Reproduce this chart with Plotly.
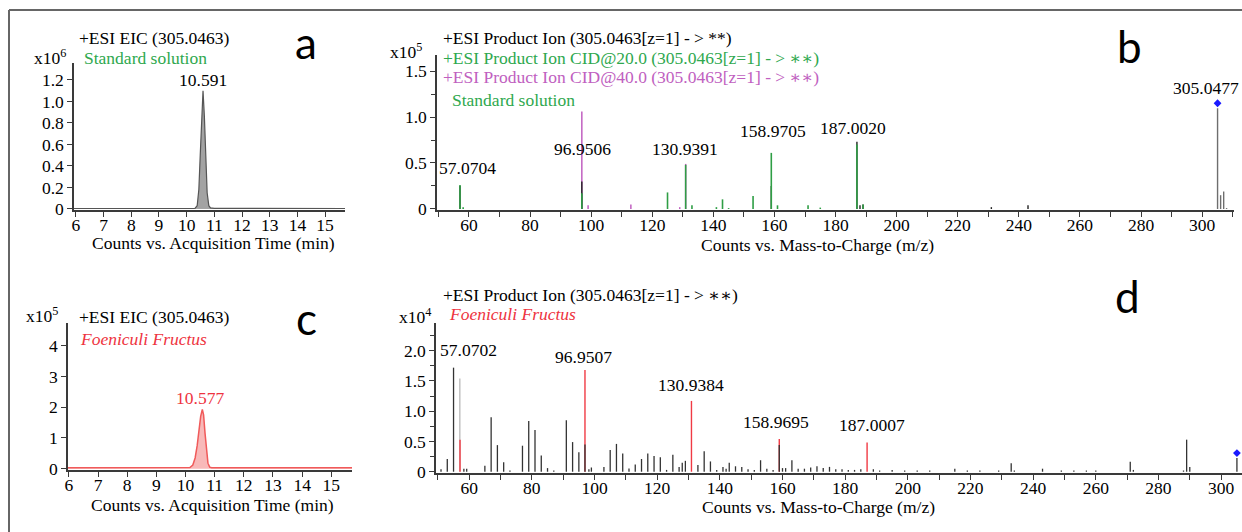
import plotly.graph_objects as go

W, H = 1242, 532

# ---------------- data ----------------
# Panel a: EIC, standard solution (x10^6 counts)
time_a = [5.93, 7.0, 8.0, 9.0, 10.0, 10.30, 10.38, 10.44, 10.49, 10.54, 10.591,
          10.64, 10.69, 10.74, 10.80, 10.86, 11.0, 12.0, 13.0, 14.0, 15.72]
counts_a = [0.004, 0.004, 0.004, 0.004, 0.004, 0.006, 0.03, 0.18, 0.50, 0.88, 1.10,
            0.86, 0.46, 0.15, 0.03, 0.01, 0.006, 0.006, 0.004, 0.004, 0.004]

# Panel c: EIC, Foeniculi Fructus (x10^5 counts)
time_c = [5.97, 7.0, 8.0, 9.0, 10.0, 10.15, 10.25, 10.33, 10.40, 10.46, 10.52, 10.577,
          10.62, 10.67, 10.72, 10.77, 10.83, 10.90, 11.5, 12.0, 13.0, 14.0, 15.71]
counts_c = [0.03, 0.03, 0.02, 0.02, 0.03, 0.04, 0.12, 0.35, 0.75, 1.25, 1.70, 1.93,
            1.75, 1.15, 0.55, 0.18, 0.05, 0.03, 0.03, 0.03, 0.03, 0.03, 0.03]

# Panel b: product ion spectra, standard (x10^5 counts)
b_mag_mz = [96.95, 99.0, 113.0, 129.0, 130.94]
b_mag_int = [1.06, 0.04, 0.05, 0.02, 0.49]
b_black_mz = [57.07, 96.95, 158.97, 187.00, 188.0, 189.0, 231.0, 243.0]
b_black_int = [0.25, 0.30, 0.25, 0.73, 0.04, 0.05, 0.02, 0.04]
b_green_mz = [57.07, 58.1, 96.95, 125.0, 130.94, 133.0, 141.0, 143.0, 145.0, 153.0,
              158.97, 161.0, 171.0, 175.0, 187.0, 189.0]
b_green_int = [0.26, 0.02, 0.17, 0.18, 0.48, 0.04, 0.02, 0.105, 0.01, 0.14,
               0.61, 0.04, 0.04, 0.015, 0.70, 0.05]
b_prec_mz = [305.05, 306.05, 307.05, 308.0]
b_prec_int = [1.095, 0.15, 0.19, 0.01]

# Panel d: product ion spectrum, Foeniculi Fructus (x10^4 counts)
d_light_mz = [57.0]
d_light_int = [1.54]
d_red_mz = [57.07, 96.95, 130.94, 158.97, 187.0]
d_red_int = [0.53, 1.68, 1.17, 0.54, 0.485]
d_black_mz = [51.0, 53.0, 55.0, 58.3, 59.2, 65.0, 67.0, 69.0, 71.0, 73.0, 77.0, 79.0,
              81.0, 83.0, 85.0, 87.0, 91.0, 93.0, 95.0, 96.95, 98.2, 99.0, 103.0, 105.0,
              107.0, 109.0, 111.0, 113.0, 115.0, 117.0, 119.0, 121.0, 123.0, 125.0,
              127.0, 128.0, 129.0, 133.0, 135.0, 137.0, 139.0, 141.0, 142.0, 143.0,
              145.0, 147.0, 149.0, 151.0, 153.0, 155.0, 157.0, 158.97, 160.0, 161.0,
              163.0, 165.0, 167.0, 169.0, 171.0, 173.0, 175.0, 177.0, 179.0, 181.0,
              183.0, 185.0, 189.0, 191.0, 195.0, 199.0, 203.0, 207.0, 215.0, 219.0,
              223.0, 229.0, 233.0, 234.0, 243.0, 249.0, 253.0, 257.0, 260.0, 271.0,
              272.0, 288.0, 289.0, 290.0, 305.05]
d_black_int = [0.04, 0.21, 1.72, 0.05, 0.05, 0.10, 0.90, 0.44, 0.155, 0.02, 0.43, 0.84,
               0.69, 0.27, 0.06, 0.02, 0.85, 0.49, 0.32, 0.45, 0.04, 0.07, 0.08, 0.36,
               0.46, 0.30, 0.055, 0.12, 0.21, 0.30, 0.26, 0.24, 0.03, 0.28,
               0.08, 0.15, 0.18, 0.11, 0.34, 0.17, 0.03, 0.08, 0.05, 0.15,
               0.09, 0.08, 0.04, 0.03, 0.19, 0.05, 0.03, 0.44, 0.06, 0.06,
               0.19, 0.05, 0.05, 0.07, 0.09, 0.06, 0.08, 0.04, 0.04, 0.03,
               0.03, 0.04, 0.04, 0.02, 0.03, 0.02, 0.02, 0.02, 0.05, 0.02,
               0.02, 0.02, 0.14, 0.02, 0.05, 0.02, 0.02, 0.02, 0.02, 0.165,
               0.03, 0.02, 0.53, 0.08, 0.225]

prec_mz = 305.05

# Peak labels
a_peak_label = "10.591"
c_peak_label = "10.577"
b_labels = ["57.0704", "96.9506", "130.9391", "158.9705", "187.0020"]
b_prec_label = "305.0477"
d_labels = ["57.0702", "96.9507", "130.9384", "158.9695", "187.0007"]

# ---------------- styling ----------------
SERIF = "Times New Roman, Liberation Serif, DejaVu Serif, serif"
SANS = "Lato, Open Sans, sans-serif"
GREEN = "#2ea84e"
GREEN_LINE = "#2f9e45"
MAGENTA = "#c060c0"
RED = "#ee3340"
AXIS = "#3a3a3a"
FS = 17.5


def px_x(p):
    return p / W


def px_y(p):
    return 1 - p / H


def sticks(xs, ys):
    X, Y = [], []
    for x, y in zip(xs, ys):
        X += [x, x, None]
        Y += [0, y, None]
    return X, Y


fig = go.Figure()

# Panel a
fig.add_trace(go.Scatter(x=time_a, y=counts_a, mode="lines", fill="tozeroy",
                         fillcolor="#a3a3a3", line=dict(color="#555555", width=1.2),
                         xaxis="x", yaxis="y", hoverinfo="skip"))
# Panel c
fig.add_trace(go.Scatter(x=time_c, y=counts_c, mode="lines", fill="tozeroy",
                         fillcolor="rgba(240,100,100,0.45)", line=dict(color="#f05a5a", width=1.5),
                         xaxis="x3", yaxis="y3", hoverinfo="skip"))

# Panel b spectra
for mz, it, col, w in [(b_mag_mz, b_mag_int, MAGENTA, 1.5),
                       (b_black_mz, b_black_int, "#222222", 1.4),
                       (b_green_mz, b_green_int, GREEN_LINE, 1.6),
                       (b_prec_mz, b_prec_int, "#6e6e6e", 1.4)]:
    X, Y = sticks(mz, it)
    fig.add_trace(go.Scatter(x=X, y=Y, mode="lines", line=dict(color=col, width=w),
                             xaxis="x2", yaxis="y2", hoverinfo="skip"))
# precursor marker (b): placed ~5px above the peak top (92 px per unit)
fig.add_trace(go.Scatter(x=[prec_mz], y=[b_prec_int[0] + 5 / 92], mode="markers",
                         marker=dict(symbol="diamond", size=6, color="#1a1aff"),
                         xaxis="x2", yaxis="y2", hoverinfo="skip"))

# Panel d spectra
for mz, it, col, w in [(d_light_mz, d_light_int, "#bdbdbd", 1.4),
                       (d_red_mz, d_red_int, "#f03a44", 1.4),
                       (d_black_mz, d_black_int, "#333333", 1.3)]:
    X, Y = sticks(mz, it)
    fig.add_trace(go.Scatter(x=X, y=Y, mode="lines", line=dict(color=col, width=w),
                             xaxis="x4", yaxis="y4", hoverinfo="skip"))
fig.add_trace(go.Scatter(x=[prec_mz], y=[d_black_int[-1] + 5 / 60.5], mode="markers",
                         marker=dict(symbol="diamond", size=6, color="#1a1aff"),
                         xaxis="x4", yaxis="y4", hoverinfo="skip"))

tickfont = dict(family=SERIF, size=FS, color="black")


def xax(domain, rng, anchor, dtick, minor_dtick=None, tick0=0):
    d = dict(domain=domain, range=rng, anchor=anchor, showline=True, linecolor=AXIS,
             linewidth=1.5, ticks="outside", ticklen=5, tickwidth=1, tickcolor=AXIS,
             showgrid=False, zeroline=False, tickfont=tickfont, dtick=dtick, tick0=tick0,
             ticklabelstandoff=-7, automargin=False, fixedrange=True)
    if minor_dtick:
        d["minor"] = dict(dtick=minor_dtick, ticks="outside", ticklen=5, tickcolor=AXIS,
                          showgrid=False)
    return d


def yax(domain, rng, anchor, vals, texts, minor_dtick=None):
    d = dict(domain=domain, range=rng, anchor=anchor, showline=True, linecolor=AXIS,
             linewidth=1.5, ticks="outside", ticklen=5, tickwidth=1, tickcolor=AXIS,
             showgrid=False, zeroline=False, tickfont=tickfont, tickvals=vals,
             ticktext=texts, automargin=False, fixedrange=True)
    if minor_dtick:
        d["minor"] = dict(dtick=minor_dtick, ticks="outside", ticklen=4, tickcolor=AXIS,
                          showgrid=False)
    return d


fig.update_layout(
    template="none",
    width=W, height=H, margin=dict(l=0, r=0, t=0, b=0, pad=0, autoexpand=False),
    paper_bgcolor="white", plot_bgcolor="white", showlegend=False,
    xaxis=xax([px_x(74), px_x(345)], [5.93, 15.72], "y", 1, tick0=6),
    yaxis=yax([px_y(210), px_y(63)], [-0.01, 1.358], "x",
              [0, 0.2, 0.4, 0.6, 0.8, 1.0, 1.2], ["0", "0.2", "0.4", "0.6", "0.8", "1.0", "1.2"]),
    xaxis2=xax([px_x(437), px_x(1234)], [49.54, 310.43], "y2", 20, 10),
    yaxis2=yax([px_y(210), px_y(55)], [-0.011, 1.674], "x2",
               [0, 0.5, 1.0, 1.5], ["0", "0.5", "1.0", "1.5"], 0.25),
    xaxis3=xax([px_x(68), px_x(352)], [5.97, 15.71], "y3", 1, tick0=6),
    yaxis3=yax([px_y(470), px_y(323)], [-0.042, 4.74], "x3",
               [0, 1, 2, 3, 4], ["0", "1", "2", "3", "4"]),
    xaxis4=xax([px_x(436), 1.0], [49.4, 306.67], "y4", 20, 10),
    yaxis4=yax([px_y(473), px_y(323)], [-0.021, 2.458], "x4",
               [0, 0.5, 1.0, 1.5, 2.0], ["0", "0.5", "1.0", "1.5", "2.0"], 0.25),
)

anns = []


def ann(text, x, y, color="black", size=FS, family=SERIF, xanchor="left"):
    anns.append(dict(text=text, x=px_x(x), y=px_y(y), xref="paper", yref="paper",
                     xanchor=xanchor, yanchor="middle", showarrow=False,
                     font=dict(family=family, size=size, color=color)))


# Panel a texts
ann("+ESI EIC (305.0463)", 77, 38)
ann("x10<sup>6</sup>", 32, 57)
ann("Standard solution", 82, 58, GREEN)
ann(a_peak_label, 203, 80, xanchor="center")
ann("a", 306, 42, size=44, family=SANS, xanchor="center")
ann("Counts vs. Acquisition Time (min)", 213, 243, xanchor="center")

# Panel b texts
ann("+ESI Product Ion (305.0463[z=1] - &gt; **)", 441, 38)
ann("x10<sup>5</sup>", 388, 51)
ann("+ESI Product Ion CID@20.0 (305.0463[z=1] - &gt; ∗∗)", 441, 58, GREEN)
ann("+ESI Product Ion CID@40.0 (305.0463[z=1] - &gt; ∗∗)", 441, 77, MAGENTA)
ann("Standard solution", 450, 100, GREEN)
for lab, (x, y) in zip(b_labels, [(467, 168), (582, 149), (685, 149), (773, 131),
                                  (853, 128)]):
    ann(lab, x, y, xanchor="center")
ann(b_prec_label, 1241, 88, xanchor="right")
ann("b", 1129, 46, size=44, family=SANS, xanchor="center")
ann("Counts vs. Mass-to-Charge (m/z)", 817, 245, xanchor="center")

# Panel c texts
ann("x10<sup>5</sup>", 24, 315)
ann("+ESI EIC (305.0463)", 77, 317)
ann("<i>Foeniculi Fructus</i>", 78, 339, RED)
ann(c_peak_label, 200, 398, RED, xanchor="center")
ann("c", 306, 318, size=44, family=SANS, xanchor="center")
ann("Counts vs. Acquisition Time (min)", 212, 505, xanchor="center")

# Panel d texts
ann("+ESI Product Ion (305.0463[z=1] - &gt; ∗∗)", 441, 295)
ann("x10<sup>4</sup>", 397, 316)
ann("<i>Foeniculi Fructus</i>", 447, 314, RED)
for lab, (x, y) in zip(d_labels, [(468, 350), (583, 357), (691, 385), (776, 422),
                                  (872, 425)]):
    ann(lab, x, y, xanchor="center")
ann("d", 1127, 296, size=44, family=SANS, xanchor="center")
ann("Counts vs. Mass-to-Charge (m/z)", 818, 507, xanchor="center")

fig.update_layout(annotations=anns)

# Frame lines (top and left)
fig.add_shape(type="line", xref="paper", yref="paper", x0=px_x(9), x1=1.0,
              y0=px_y(10), y1=px_y(10), line=dict(color="#666666", width=2))
fig.add_shape(type="line", xref="paper", yref="paper", x0=px_x(9), x1=px_x(9),
              y0=0, y1=px_y(10), line=dict(color="#666666", width=2))

fig.write_html("out.html", config={"displayModeBar": False},
               post_script="document.body.style.margin='0';document.body.style.overflow='hidden';")
